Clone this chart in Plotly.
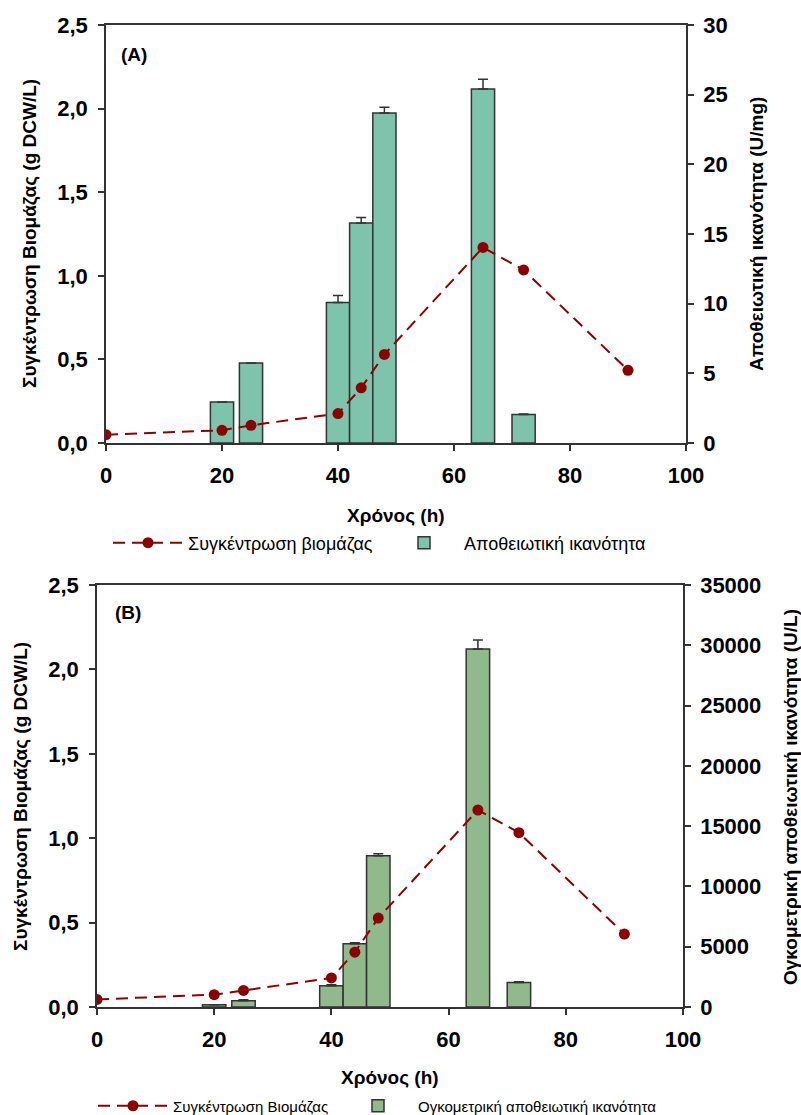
import plotly.graph_objects as go

# ---------------- data ----------------
time_bio = [0, 20, 25, 40, 44, 48, 65, 72, 90]
biomass_A = [0.05, 0.076, 0.106, 0.176, 0.33, 0.53, 1.17, 1.035, 0.435]
biomass_B = [0.045, 0.073, 0.098, 0.172, 0.325, 0.527, 1.167, 1.033, 0.432]

time_bar = [20, 25, 40, 44, 48, 65, 72]
activity_A = [2.94, 5.74, 10.08, 15.79, 23.69, 25.41, 2.04]        # U/mg
activity_A_err = [0.0, 0.0, 0.5, 0.4, 0.4, 0.7, 0.05]
activity_B = [190, 520, 1765, 5250, 12540, 29700, 2040]            # U/L
activity_B_err = [0, 80, 90, 80, 180, 740, 60]

x_ticks = [0, 20, 40, 60, 80, 100]

label_bio_A = "Συγκέντρωση βιομάζας"
label_act_A = "Αποθειωτική ικανότητα"
label_bio_B = "Συγκέντρωση Βιομάζας"
label_act_B = "Ογκομετρική αποθειωτική ικανότητα"

# ---------------- style ----------------
W, H = 801, 1115
FONT = "Liberation Sans, Arial, sans-serif"
AX = "#333333"
RED = "#8b0000"
TEAL = "#7ec3ab"
SAGE = "#90b98c"

def px_x(v):
    return v / W

def px_y(v):
    return 1 - v / H

fig = go.Figure()

# Panel A
fig.add_trace(go.Bar(
    x=time_bar, y=activity_A, width=4, name=label_act_A,
    marker=dict(color=TEAL, line=dict(color=AX, width=1.5)),
    error_y=dict(type="data", array=activity_A_err, arrayminus=[0]*len(time_bar),
                 symmetric=False, color=AX, thickness=1.5, width=5),
    xaxis="x", yaxis="y", legend="legend2", showlegend=True))
fig.add_trace(go.Scatter(
    x=time_bio, y=biomass_A, mode="lines+markers", name=label_bio_A,
    line=dict(color=RED, width=2, dash="12px,7px"),
    marker=dict(color=RED, size=11),
    xaxis="x", yaxis="y2", legend="legend", showlegend=True))

# Panel B
fig.add_trace(go.Bar(
    x=time_bar, y=activity_B, width=4, name=label_act_B,
    marker=dict(color=SAGE, line=dict(color=AX, width=1.5)),
    error_y=dict(type="data", array=activity_B_err, arrayminus=[0]*len(time_bar),
                 symmetric=False, color=AX, thickness=1.5, width=5),
    xaxis="x2", yaxis="y3", legend="legend4", showlegend=True))
fig.add_trace(go.Scatter(
    x=time_bio, y=biomass_B, mode="lines+markers", name=label_bio_B,
    line=dict(color=RED, width=2, dash="12px,7px"),
    marker=dict(color=RED, size=11),
    xaxis="x2", yaxis="y4", legend="legend3", showlegend=True))

tickfont = dict(family=FONT, size=22, color="black", weight="bold")

def xaxis(dom_x, anchor):
    return dict(domain=dom_x, anchor=anchor, range=[0, 100], tickvals=x_ticks,
                showline=True, linecolor=AX, linewidth=1.5, mirror=True,
                ticks="outside", ticklen=6, tickcolor=AX, tickwidth=1.5,
                tickfont=tickfont, ticklabelstandoff=6, showgrid=False, zeroline=False)

def yaxis(dom_y, anchor, side, rng, dtick, fmt, overlaying=None, standoff=6):
    d = dict(domain=dom_y, anchor=anchor, side=side, range=rng, dtick=dtick,
             tickformat=fmt, showline=True, linecolor=AX, linewidth=1.5,
             ticks="outside", ticklen=6, tickcolor=AX, tickwidth=1.5,
             tickfont=tickfont, ticklabelstandoff=standoff,
             showgrid=False, zeroline=False)
    if overlaying:
        d["overlaying"] = overlaying
    return d

domA_x = [px_x(106), px_x(686)]
domA_y = [px_y(443), px_y(25)]
domB_x = [px_x(97), px_x(683)]
domB_y = [px_y(1007), px_y(585)]

def legend(x, y, size):
    return dict(orientation="h", x=px_x(x), y=px_y(y), xanchor="left", yanchor="middle",
                font=dict(family=FONT, size=size, color="black"), itemwidth=70,
                bgcolor="rgba(0,0,0,0)", borderwidth=0, visible=True)

fig.update_layout(
    width=W, height=H,
    margin=dict(l=0, r=0, t=0, b=0, autoexpand=False),
    paper_bgcolor="white", plot_bgcolor="white",
    separators=",.",
    barmode="overlay",
    showlegend=True,
    font=dict(family=FONT, color="black"),
    xaxis=xaxis(domA_x, "y"),
    yaxis=yaxis(domA_y, "x", "right", [0, 30], 5, "d", standoff=5),
    yaxis2=yaxis(domA_y, "x", "left", [0, 2.5], 0.5, ".1f", overlaying="y", standoff=6),
    xaxis2=xaxis(domB_x, "y3"),
    yaxis3=yaxis(domB_y, "x2", "right", [0, 35000], 5000, "d", standoff=5),
    yaxis4=yaxis(domB_y, "x2", "left", [0, 2.5], 0.5, ".1f", overlaying="y3", standoff=6),
    legend=legend(108, 543, 18),
    legend2=legend(384, 543, 18),
    legend3=legend(93, 1106, 15),
    legend4=legend(338, 1106, 15),
)

title_font = dict(family=FONT, size=19, color="black", weight="bold")
annotations = [
    dict(text="Συγκέντρωση Βιομάζας (g DCW/L)", x=px_x(30), y=px_y(234), textangle=-90),
    dict(text="Αποθειωτική ικανότητα (U/mg)", x=px_x(757), y=px_y(234), textangle=-90),
    dict(text="Χρόνος (h)", x=px_x(396), y=px_y(515)),
    dict(text="Συγκέντρωση Βιομάζας (g DCW/L)", x=px_x(21), y=px_y(797), textangle=-90),
    dict(text="Ογκομετρική αποθειωτική ικανότητα (U/L)", x=px_x(790), y=px_y(797), textangle=-90),
    dict(text="Χρόνος (h)", x=px_x(390), y=px_y(1077)),
]
for a in annotations:
    fig.add_annotation(xref="paper", yref="paper", showarrow=False,
                       xanchor="center", yanchor="middle", font=title_font, **a)

panel_font = dict(family=FONT, size=19, color="black", weight="bold")
for txt, x, y in [("(A)", 134, 54), ("(B)", 128, 612)]:
    fig.add_annotation(xref="paper", yref="paper", showarrow=False, text=txt,
                       x=px_x(x), y=px_y(y), xanchor="center", yanchor="middle", font=panel_font)

fig.write_html("out.html")
